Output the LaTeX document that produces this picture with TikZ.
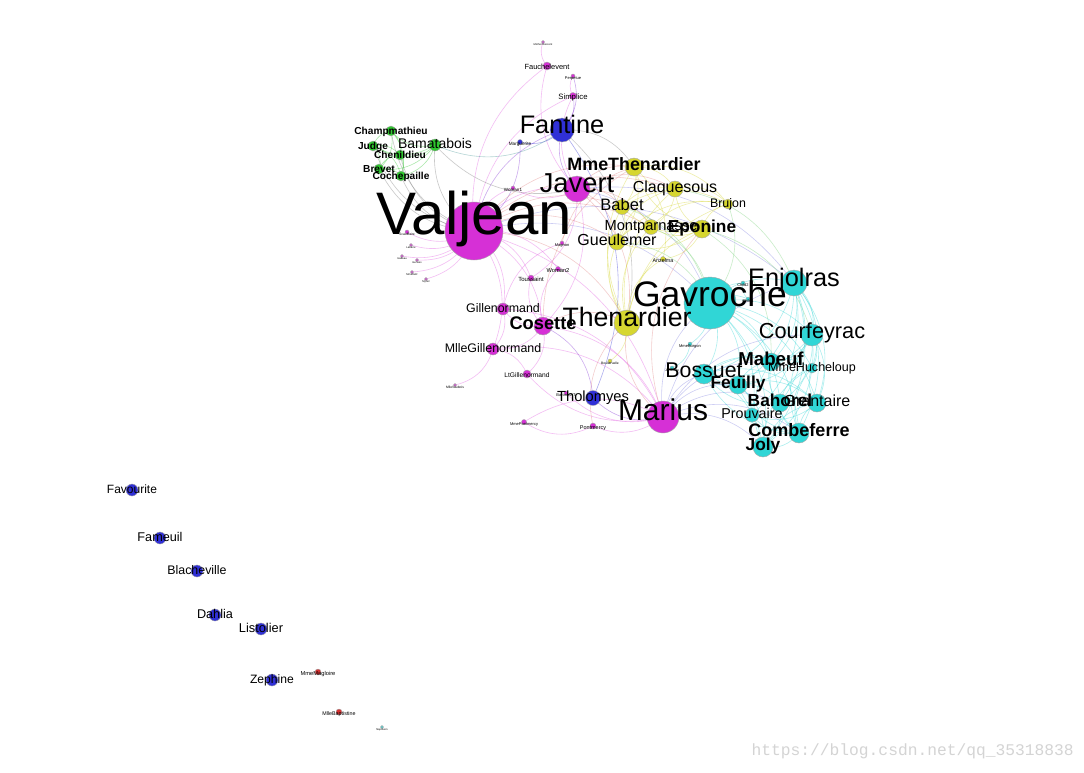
\documentclass[tikz,border=0pt]{standalone}
\usepackage{fontspec}
\setmainfont{Liberation Sans}
\newfontfamily\wmfont{Liberation Mono}
\pgfdeclarelayer{bg}
\pgfdeclarelayer{paper}
\pgfsetlayers{paper,bg,main}
\definecolor{cM}{RGB}{214,48,214}
\definecolor{cB}{RGB}{48,48,214}
\definecolor{cY}{RGB}{214,214,48}
\definecolor{cC}{RGB}{48,214,214}
\definecolor{cG}{RGB}{48,200,48}
\definecolor{cR}{RGB}{214,48,48}
\definecolor{eMM}{RGB}{225,90,225}
\definecolor{eMY}{RGB}{225,130,130}
\definecolor{eMC}{RGB}{130,130,225}
\definecolor{eMB}{RGB}{130,48,214}
\definecolor{eMG}{RGB}{120,120,120}
\definecolor{eBG}{RGB}{70,150,150}
\definecolor{eBY}{RGB}{130,130,130}
\definecolor{eYC}{RGB}{120,210,120}
\definecolor{wm}{RGB}{212,212,212}
\tikzset{
  dot/.style={circle, inner sep=0pt, minimum size=#1*1.5pt, draw=black!35, line width=0.3pt},
  lab/.style={inner sep=0pt, text height=0.75em, text depth=0.25em, anchor=center, text=black},
  edge/.style={line width=0.45pt, opacity=0.4},
}
\begin{document}
\begin{tikzpicture}[x=0.75pt, y=-0.75pt]
\begin{pgfonlayer}{paper}
\fill[white] (0,0) rectangle (1084,772);
\end{pgfonlayer}
\useasboundingbox (0,0) rectangle (1084,772);
% nodes
\foreach \n/\x/\y/\r/\c in {
  Valjean/474/231/29/cM, Javert/577/189/13/cM, Cosette/543/326/9/cM,
  Marius/663/417/16/cM, Gillenormand/503/309/6/cM, MlleGillenormand/493/349/6/cM,
  LtGillenormand/527/374/4/cM, Fauchelevent/547/66/4/cM, MotherInnocent/543/42/1.5/cM,
  Simplice/573/96/3.5/cM, Perpetue/573/76/2/cM, Woman1/513/188/2/cM,
  Woman2/558/269/2.5/cM, Toussaint/531/278/3/cM, Magnon/562/243/2/cM,
  MlleVaubois/455/385/1.5/cM, BaronessT/566/393/2/cM, MmePontmercy/524/422/2.5/cM,
  Pontmercy/593/426/3/cM,
  Scaufflaire/407/232/2/cM, Labarre/411/245/1.5/cM, Isabeau/402/256/1.5/cM,
  Gervais/417/260/1.5/cM, MmeDeR/412/272/1.5/cM, Myriel/426/279/1.5/cM,
  Fantine/562/130/12/cB, Marguerite/520/142/2.5/cB, Tholomyes/593/398/7.5/cB,
  MmeThenardier/634/167/9/cY, Claquesous/675/189/8/cY, Babet/622/207/7.5/cY,
  Montparnasse/651/227/7.5/cY, Eponine/702/229/9/cY, Brujon/728/204/5/cY,
  Gueulemer/617/242/8/cY, Anzelma/663/259/2.5/cY, Thenardier/627/323/13/cY,
  Boulatruelle/610/361/2/cY,
  Gavroche/710/303/26/cC, Enjolras/794/283/13/cC, Courfeyrac/812/335/11/cC,
  Mabeuf/771/362/9/cC, MmeHucheloup/812/368/5/cC, Bossuet/704/374/10/cC,
  Feuilly/738/385/9/cC, Bahorel/780/403/9/cC, Grantaire/817/403/9/cC,
  Prouvaire/752/415/7/cC, Combeferre/799/433/10/cC, Joly/763/447/10/cC,
  Child1/748/299/2/cC, Child2/743/283/2/cC, MmeBurgon/690/344/2/cC,
  Jondrette/672/368/2/cC, Napoleon/382/727/1.5/cC,
  Champmathieu/391/131/5/cG, Judge/373/146/5/cG, Chenildieu/400/155/5/cG,
  Bamatabois/435/145/6/cG, Brevet/379/169/5/cG, Cochepaille/401/176/5/cG,
  Favourite/132/490/6/cB, Fameuil/160/538/6/cB, Blacheville/197/571/6/cB,
  Dahlia/215/615/6/cB, Listolier/261/629/6/cB, Zephine/272/680/6/cB,
  MmeMagloire/318/672/3/cR, MlleBaptistine/339/712/3/cR}
  \node[dot=\r, fill=\c] (\n) at (\x,\y) {};
% labels
\foreach \n/\s in {
  Valjean/45, Gavroche/26.6, Marius/22.5, Javert/20.5, Thenardier/20, Fantine/19,
  Enjolras/19, Courfeyrac/16.3, Bossuet/16, Claquesous/12, Babet/12.4,
  Montparnasse/11, Gueulemer/12, Brujon/9.3, Gillenormand/9.3,
  MlleGillenormand/9.3, Tholomyes/11, MmeHucheloup/9.4, Grantaire/12,
  Prouvaire/10.7, Bamatabois/10.5, Simplice/5.8, Fauchelevent/5.6, Perpetue/3,
  Marguerite/3.5, Woman1/3.4, Woman2/4.3, Toussaint/4.5, Magnon/3, Anzelma/4,
  LtGillenormand/5, Pontmercy/4.1, MmePontmercy/3, BaronessT/3, MlleVaubois/2.5,
  Boulatruelle/2.5, MmeBurgon/3, Child1/3, Child2/3, Jondrette/2.5,
  Favourite/9, Fameuil/9.5, Blacheville/9.3, Dahlia/9.5, Listolier/9.6,
  Zephine/9.1, MmeMagloire/4.3, MlleBaptistine/4, Napoleon/2, MotherInnocent/2,
  Scaufflaire/2.5, Labarre/2, Isabeau/2, Gervais/2, MmeDeR/2, Myriel/2}
  \node[lab, font=\fontsize{\s}{\s}\selectfont] (l\n) at (\n) {\n};
\foreach \n/\s in {
  MmeThenardier/13.4, Eponine/13, Cosette/13.7, Mabeuf/14, Feuilly/13,
  Bahorel/13, Combeferre/13.5, Joly/13, Champmathieu/7.6, Judge/7.6,
  Chenildieu/7.6, Brevet/7.6, Cochepaille/7.6}
  \node[lab, font=\fontsize{\s}{\s}\selectfont\bfseries] (l\n) at (\n) {\n};
% watermark
\node[font=\wmfont\fontsize{12.2}{12.2}\selectfont, text=wm, anchor=east, inner sep=0pt] (wmark) at (1074,751) {https://blog.csdn.net/qq\_35318838};
% edges
\begin{pgfonlayer}{bg}
\foreach \a/\b in {
  Valjean/Javert, Valjean/Cosette, Valjean/Fauchelevent, Valjean/Simplice,
  Valjean/Woman1, Valjean/Woman2, Valjean/Toussaint, Valjean/Gillenormand,
  Valjean/MlleGillenormand, Valjean/Marius, Valjean/Labarre, Valjean/MmeDeR,
  Valjean/Isabeau, Valjean/Gervais, Valjean/Scaufflaire, Valjean/Myriel,
  Javert/Fauchelevent, Javert/Simplice, Javert/Woman1, Javert/Cosette,
  Javert/Toussaint, Fauchelevent/MotherInnocent, Simplice/Perpetue,
  Cosette/Woman2, Cosette/Toussaint, Cosette/Gillenormand,
  Cosette/MlleGillenormand, Cosette/LtGillenormand, Cosette/Marius,
  Gillenormand/MlleGillenormand, Gillenormand/Marius, Gillenormand/Magnon,
  MlleGillenormand/LtGillenormand, MlleGillenormand/Marius,
  MlleGillenormand/MlleVaubois, Marius/LtGillenormand, Marius/BaronessT,
  Marius/Pontmercy, Pontmercy/MmePontmercy, MmePontmercy/Marius}
  \draw[edge, eMM] (\a.center) to[bend left=30] (\b.center);
\foreach \a/\b in {
  Valjean/Fantine, Javert/Fantine, Simplice/Fantine, Perpetue/Fantine,
  Marius/Tholomyes, Cosette/Tholomyes, Marguerite/Valjean}
  \draw[edge, eMB] (\a.center) to[bend left=30] (\b.center);
\foreach \a/\b in {Fantine/Marguerite, Fantine/Tholomyes}
  \draw[edge, cB] (\a.center) to[bend left=30] (\b.center);
\foreach \a/\b in {
  Valjean/MmeThenardier, Valjean/Thenardier, Valjean/Babet, Valjean/Gueulemer,
  Valjean/Claquesous, Valjean/Montparnasse, Javert/Thenardier,
  Javert/MmeThenardier, Javert/Babet, Javert/Gueulemer, Javert/Claquesous,
  Javert/Montparnasse, Cosette/Thenardier, Cosette/MmeThenardier,
  Marius/Thenardier, Marius/Eponine, Magnon/MmeThenardier, Pontmercy/Thenardier}
  \draw[edge, eMY] (\a.center) to[bend left=30] (\b.center);
\foreach \a/\b in {
  Valjean/Gavroche, Valjean/Enjolras, Javert/Gavroche, Javert/Enjolras,
  Marius/Gavroche, Marius/Enjolras, Marius/Combeferre, Marius/Courfeyrac,
  Marius/Bahorel, Marius/Bossuet, Marius/Joly, Marius/Feuilly, Marius/Mabeuf}
  \draw[edge, eMC] (\a.center) to[bend left=30] (\b.center);
\foreach \a/\b in {
  Valjean/Bamatabois, Valjean/Champmathieu, Valjean/Judge, Valjean/Brevet,
  Valjean/Chenildieu, Valjean/Cochepaille, Javert/Bamatabois}
  \draw[edge, eMG] (\a.center) to[bend left=30] (\b.center);
\draw[edge, eBG] (Fantine.center) to[bend left=30] (Bamatabois.center);
\foreach \a/\b in {Fantine/MmeThenardier, Fantine/Thenardier}
  \draw[edge, eBY] (\a.center) to[bend left=30] (\b.center);
\foreach \a/\b in {
  Bamatabois/Judge, Bamatabois/Champmathieu, Bamatabois/Brevet,
  Bamatabois/Chenildieu, Bamatabois/Cochepaille, Judge/Champmathieu,
  Judge/Brevet, Judge/Chenildieu, Judge/Cochepaille, Champmathieu/Brevet,
  Champmathieu/Chenildieu, Champmathieu/Cochepaille, Brevet/Chenildieu,
  Brevet/Cochepaille, Chenildieu/Cochepaille}
  \draw[edge, cG] (\a.center) to[bend left=30] (\b.center);
\foreach \a/\b in {
  Thenardier/MmeThenardier, Thenardier/Babet, Thenardier/Gueulemer,
  Thenardier/Claquesous, Thenardier/Montparnasse, Thenardier/Eponine,
  Thenardier/Anzelma, Thenardier/Brujon, Thenardier/Boulatruelle,
  Eponine/Anzelma, Eponine/MmeThenardier, Eponine/Montparnasse,
  Eponine/Claquesous, Eponine/Babet, Eponine/Gueulemer, Eponine/Brujon,
  Babet/Gueulemer, Babet/Claquesous, Babet/Montparnasse, Babet/Brujon,
  Gueulemer/Claquesous, Gueulemer/Montparnasse, Gueulemer/Brujon,
  Claquesous/Montparnasse, Claquesous/Brujon, Montparnasse/Brujon,
  MmeThenardier/Babet, MmeThenardier/Gueulemer, MmeThenardier/Claquesous,
  MmeThenardier/Anzelma, MmeThenardier/Brujon}
  \draw[edge, cY] (\a.center) to[bend left=30] (\b.center);
\foreach \a/\b in {
  Babet/Gavroche, Gueulemer/Gavroche, Montparnasse/Gavroche, Brujon/Gavroche,
  Claquesous/Enjolras, Eponine/Courfeyrac, Eponine/Mabeuf}
  \draw[edge, eYC] (\a.center) to[bend left=30] (\b.center);
\foreach \a/\b in {
  Gavroche/Enjolras, Gavroche/Courfeyrac, Gavroche/Combeferre,
  Gavroche/Prouvaire, Gavroche/Feuilly, Gavroche/Bahorel, Gavroche/Joly,
  Gavroche/Bossuet, Gavroche/Grantaire, Gavroche/Mabeuf, Gavroche/MmeHucheloup,
  Gavroche/MmeBurgon, Gavroche/Child1, Gavroche/Child2, Child1/Child2,
  MmeBurgon/Jondrette,
  Enjolras/Combeferre, Enjolras/Courfeyrac, Enjolras/Prouvaire,
  Enjolras/Feuilly, Enjolras/Bahorel, Enjolras/Joly, Enjolras/Bossuet,
  Enjolras/Grantaire, Enjolras/Mabeuf, Enjolras/MmeHucheloup,
  Combeferre/Courfeyrac, Combeferre/Prouvaire, Combeferre/Feuilly,
  Combeferre/Bahorel, Combeferre/Joly, Combeferre/Bossuet,
  Combeferre/Grantaire, Combeferre/Mabeuf, Combeferre/MmeHucheloup,
  Courfeyrac/Feuilly, Courfeyrac/Bahorel, Courfeyrac/Joly, Courfeyrac/Bossuet,
  Courfeyrac/Grantaire, Courfeyrac/Mabeuf, Courfeyrac/MmeHucheloup,
  Feuilly/Prouvaire, Feuilly/Bahorel, Feuilly/Joly, Feuilly/Bossuet,
  Feuilly/Grantaire, Feuilly/Mabeuf, Bahorel/Joly, Bahorel/Bossuet,
  Bahorel/Grantaire, Bahorel/Mabeuf, Bahorel/MmeHucheloup, Bossuet/Joly,
  Bossuet/Grantaire, Bossuet/Mabeuf, Bossuet/MmeHucheloup, Joly/Grantaire,
  Joly/Mabeuf, Joly/MmeHucheloup, Grantaire/MmeHucheloup, Grantaire/Prouvaire}
  \draw[edge, cC] (\a.center) to[bend left=30] (\b.center);
\end{pgfonlayer}
\end{tikzpicture}
\end{document}
